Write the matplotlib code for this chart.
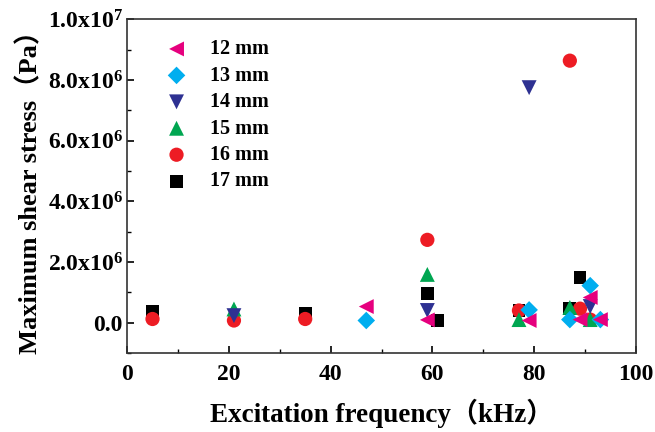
import matplotlib
matplotlib.use("Agg")
import matplotlib.pyplot as plt
from matplotlib.ticker import MultipleLocator, FuncFormatter

# Excitation frequency (kHz) and maximum shear stress (Pa) per tube size
freq_12 = [47, 59, 79, 89, 91, 93]
stress_12 = [0.53e6, 0.09e6, 0.07e6, 0.10e6, 0.83e6, 0.10e6]

freq_13 = [47, 79, 87, 91, 93]
stress_13 = [0.07e6, 0.42e6, 0.10e6, 1.22e6, 0.10e6]

freq_14 = [21, 59, 79, 91]
stress_14 = [0.23e6, 0.40e6, 7.75e6, 0.53e6]

freq_15 = [21, 59, 77, 87, 91]
stress_15 = [0.45e6, 1.59e6, 0.10e6, 0.50e6, 0.10e6]

freq_16 = [5, 21, 35, 59, 77, 87, 89, 91]
stress_16 = [0.12e6, 0.07e6, 0.12e6, 2.73e6, 0.40e6, 8.64e6, 0.46e6, 0.10e6]

freq_17 = [5, 35, 59, 61, 77, 87, 89]
stress_17 = [0.37e6, 0.29e6, 0.95e6, 0.07e6, 0.40e6, 0.46e6, 1.49e6]

labels = ["12 mm", "13 mm", "14 mm", "15 mm", "16 mm", "17 mm"]

plt.rcParams["font.family"] = ["Liberation Serif", "Noto Sans CJK SC"]
plt.rcParams["font.weight"] = "bold"
plt.rcParams["mathtext.fontset"] = "custom"
plt.rcParams["mathtext.rm"] = "Liberation Serif:bold"
plt.rcParams["mathtext.it"] = "Liberation Serif:bold"
plt.rcParams["mathtext.bf"] = "Liberation Serif:bold"

fig = plt.figure(figsize=(6.55, 4.32), dpi=100)
ax = fig.add_axes([0.194, 0.183, 0.777, 0.772])

series = [
    (freq_17, stress_17, "s", "#000000", 85, labels[5], 2),
    (freq_16, stress_16, "o", "#ed1c24", 105, labels[4], 3),
    (freq_15, stress_15, "^", "#00a651", 115, labels[3], 4),
    (freq_14, stress_14, "v", "#2e3192", 115, labels[2], 5),
    (freq_13, stress_13, "D", "#00aeef", 80, labels[1], 6),
    (freq_12, stress_12, "<", "#e6007e", 115, labels[0], 7),
]
handles = {}
for x, y, m, c, s, lab, z in series:
    handles[lab] = ax.scatter(x, y, marker=m, s=s, color=c, edgecolors="none",
                              label=lab, zorder=z)

ax.set_xlim(0, 100)
ax.set_ylim(-1.0e6, 1.0e7)
ax.xaxis.set_major_locator(MultipleLocator(20))
ax.xaxis.set_minor_locator(MultipleLocator(10))
ax.yaxis.set_major_locator(MultipleLocator(2e6))
ax.yaxis.set_minor_locator(MultipleLocator(1e6))


def sci_fmt(v, pos):
    if abs(v) < 1:
        return "0.0"
    exp = 0
    m = v
    while abs(m) >= 10:
        m /= 10
        exp += 1
    return "%.1fx10$^{%d}$" % (m, exp)


ax.yaxis.set_major_formatter(FuncFormatter(sci_fmt))
ax.tick_params(axis="both", which="both", direction="in", top=False, right=False)
ax.tick_params(axis="both", which="major", length=5, width=1.2, labelsize=17)
ax.tick_params(axis="x", which="major", pad=8)
ax.tick_params(axis="y", which="major", pad=3)
ax.tick_params(axis="both", which="minor", length=3, width=1.0)
for sp in ax.spines.values():
    sp.set_linewidth(1.2)
    sp.set_color("#333333")

ax.set_xlabel("Excitation frequency（kHz）", fontsize=19.5, fontweight="bold",
              labelpad=10)
ax.set_ylabel("Maximum shear stress（Pa）", fontsize=19, fontweight="bold",
              labelpad=4)

ax.legend([handles[l] for l in labels], labels, loc="upper left",
          bbox_to_anchor=(0.022, 0.995), frameon=False,
          handletextpad=0.65, labelspacing=0.32, scatterpoints=1,
          prop={"weight": "bold", "size": 14.5})

fig.savefig("out.png", dpi=100)
